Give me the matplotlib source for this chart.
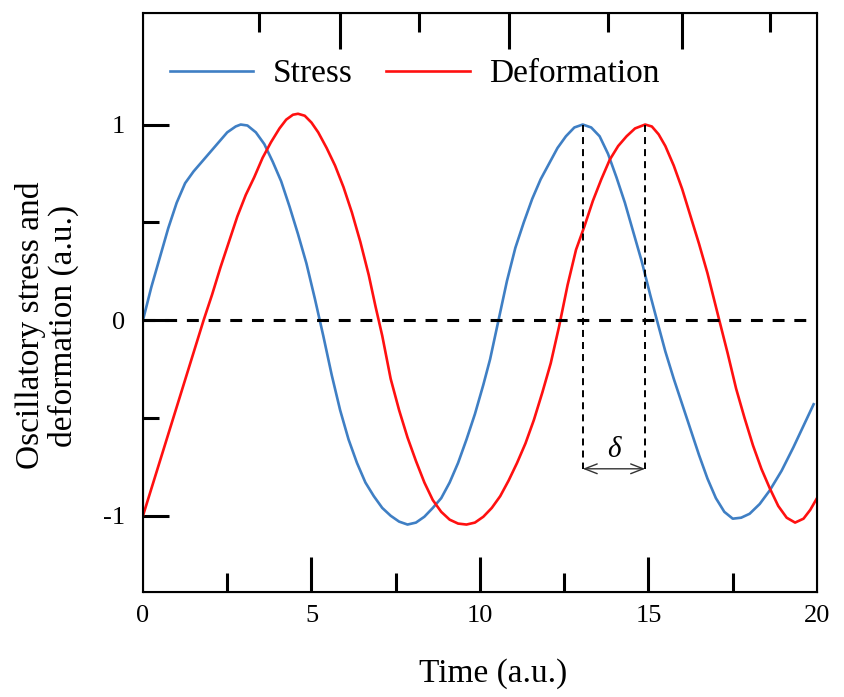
import numpy as np
import matplotlib
matplotlib.use("Agg")
from matplotlib import pyplot as plt

# oscillation traces (arbitrary units)
stress_t = [0, 0.25, 0.5, 0.75, 1.0, 1.25, 1.5, 1.75, 2.0, 2.25, 2.5, 2.75, 2.9, 3.1,
            3.35, 3.6, 3.85, 4.1, 4.35, 4.6, 4.85, 5.1, 5.35, 5.6, 5.85, 6.1, 6.35, 6.6,
            6.85, 7.1, 7.35, 7.6, 7.85, 8.1, 8.35, 8.6, 8.85, 9.1, 9.35, 9.6, 9.85, 10.1,
            10.3, 10.55, 10.8, 11.05, 11.3, 11.55, 11.8, 12.05, 12.3, 12.55, 12.8, 13.05,
            13.3, 13.55, 13.8, 14.05, 14.3, 14.55, 14.8, 15.05, 15.25, 15.5, 15.75, 16.0,
            16.25, 16.5, 16.75, 17.0, 17.25, 17.5, 17.75, 18.0, 18.3, 18.6, 18.95, 19.3,
            19.6, 19.9]
stress_v = [0, 0.17, 0.32, 0.47, 0.60, 0.70, 0.76, 0.81, 0.86, 0.91, 0.96, 0.99, 1.0, 0.995,
            0.96, 0.90, 0.81, 0.71, 0.58, 0.44, 0.29, 0.11, -0.08, -0.28, -0.46, -0.61,
            -0.73, -0.83, -0.90, -0.96, -1.0, -1.03, -1.045, -1.035, -1.005, -0.96, -0.91,
            -0.83, -0.73, -0.61, -0.48, -0.33, -0.20, 0.0, 0.20, 0.37, 0.50, 0.62, 0.72,
            0.80, 0.88, 0.94, 0.985, 1.0, 0.985, 0.94, 0.85, 0.73, 0.60, 0.45, 0.30, 0.13,
            0.0, -0.16, -0.30, -0.43, -0.56, -0.69, -0.81, -0.91, -0.98, -1.015, -1.01,
            -0.99, -0.94, -0.87, -0.77, -0.65, -0.54, -0.43]

deform_t = [0, 0.45, 0.9, 1.35, 1.8, 2.05, 2.3, 2.55, 2.8, 3.05, 3.3, 3.55, 3.8, 4.05,
            4.25, 4.45, 4.6, 4.8, 5.0, 5.2, 5.45, 5.7, 5.95, 6.2, 6.45, 6.7, 6.9, 7.1,
            7.35, 7.6, 7.85, 8.1, 8.35, 8.6, 8.85, 9.1, 9.35, 9.6, 9.85, 10.1, 10.35,
            10.6, 10.85, 11.1, 11.35, 11.6, 11.85, 12.1, 12.35, 12.6, 12.85, 13.1, 13.35,
            13.6, 13.85, 14.1, 14.35, 14.6, 14.9, 15.1, 15.3, 15.5, 15.75, 16.0, 16.25,
            16.5, 16.75, 17.1, 17.35, 17.6, 17.85, 18.1, 18.35, 18.6, 18.85, 19.1, 19.35,
            19.6, 19.8, 20.0]
deform_v = [-1.0, -0.75, -0.50, -0.25, 0.0, 0.13, 0.27, 0.40, 0.53, 0.64, 0.73, 0.83,
            0.91, 0.98, 1.025, 1.05, 1.055, 1.045, 1.01, 0.96, 0.88, 0.79, 0.68, 0.55,
            0.40, 0.23, 0.07, -0.08, -0.30, -0.46, -0.60, -0.72, -0.83, -0.92, -0.98,
            -1.02, -1.04, -1.045, -1.035, -1.005, -0.96, -0.90, -0.82, -0.73, -0.63,
            -0.51, -0.37, -0.22, -0.03, 0.18, 0.36, 0.48, 0.61, 0.72, 0.82, 0.89, 0.94,
            0.98, 1.0, 0.99, 0.95, 0.89, 0.79, 0.67, 0.53, 0.39, 0.24, 0.0, -0.17, -0.35,
            -0.50, -0.64, -0.76, -0.86, -0.95, -1.01, -1.035, -1.015, -0.97, -0.91]

x_ticks = [0, 5, 10, 15, 20]
x_minor = [2.5, 7.5, 12.5, 17.5]
top_ticks = [5.85, 10.85, 16.0]
top_minor = [3.45, 8.2, 13.8, 18.6]
y_ticks = [-1, 0, 1]
y_minor = [-0.5, 0.5]
delta_y = -0.76

plt.rcParams['font.family'] = ['Liberation Serif', 'DejaVu Serif']
plt.rcParams['axes.unicode_minus'] = False

fig = plt.figure(figsize=(8.44, 6.97), dpi=100)
ax = fig.add_axes([0.1694, 0.1506, 0.7986, 0.8307])

blue = '#3F7FC4'
red = '#FF1010'
ax.plot(stress_t, stress_v, color=blue, lw=1.9, label='Stress')
ax.plot(deform_t, deform_v, color=red, lw=1.9, label='Deformation')
ax.axhline(0, color='black', lw=2.2, dashes=(3.9, 3.2))

# phase lag between the second stress and deformation peaks
st = np.array(stress_t); sv = np.array(stress_v)
dt = np.array(deform_t); dv = np.array(deform_v)
m1 = st > 10
m2 = dt > 10
t1 = st[m1][np.argmax(sv[m1])]
t2 = dt[m2][np.argmax(dv[m2])]
for tp, vp in [(t1, sv[m1].max()), (t2, dv[m2].max())]:
    ax.plot([tp, tp], [vp, delta_y], color='black', lw=1.4, dashes=(3.6, 2.6))
ax.annotate('', xy=(t1, delta_y), xytext=(t2, delta_y),
            arrowprops=dict(arrowstyle='<->,head_length=0.9,head_width=0.35',
                            color='#333333', lw=1.0, shrinkA=0, shrinkB=0))
ax.text((t1 + t2) / 2, delta_y + 0.03, 'δ', ha='center', va='bottom',
        fontsize=21, fontstyle='italic')

ax.set_xlim(0, 20)
ax.set_ylim(-1.39, 1.57)
ax.set_xticks(x_ticks)
ax.set_xticks(x_minor, minor=True)
ax.set_yticks(y_ticks)
ax.set_yticklabels([str(v) for v in y_ticks])
ax.set_yticks(y_minor, minor=True)

top = ax.twiny()
top.set_xlim(ax.get_xlim())
top.set_xticks(top_ticks)
top.set_xticks(top_minor, minor=True)
top.set_xticklabels([])
top.tick_params(axis='x', which='major', direction='in', length=26, width=2.2)
top.tick_params(axis='x', which='minor', direction='in', length=14, width=2.2)

ax.tick_params(axis='x', which='major', direction='in', length=25, width=2.2,
               labelsize=19, pad=9)
ax.tick_params(axis='x', which='minor', direction='in', length=14, width=2.2)
ax.tick_params(axis='y', which='major', direction='in', length=19, width=2.2,
               labelsize=19, pad=13)
ax.tick_params(axis='y', which='minor', direction='in', length=11.5, width=2.2)
for sp in ax.spines.values():
    sp.set_linewidth(1.5)
# the end ticks sit on the side spines
xt = ax.xaxis.get_major_ticks()
xt[0].tick1line.set_visible(False)
xt[-1].tick1line.set_visible(False)

ax.set_xlabel('Time (a.u.)', fontsize=24)
ax.xaxis.set_label_coords(0.52, -0.115)
ax.set_ylabel('Oscillatory stress and\ndeformation (a.u.)', fontsize=24, linespacing=1.05)
ax.yaxis.set_label_coords(-0.095, 0.46)

ax.legend(loc='upper left', ncol=2, frameon=False, fontsize=24, handlelength=2.5,
          handletextpad=0.6, columnspacing=1.0, borderaxespad=0.4,
          bbox_to_anchor=(0.0, 0.967))

fig.savefig('out.png', dpi=100)
